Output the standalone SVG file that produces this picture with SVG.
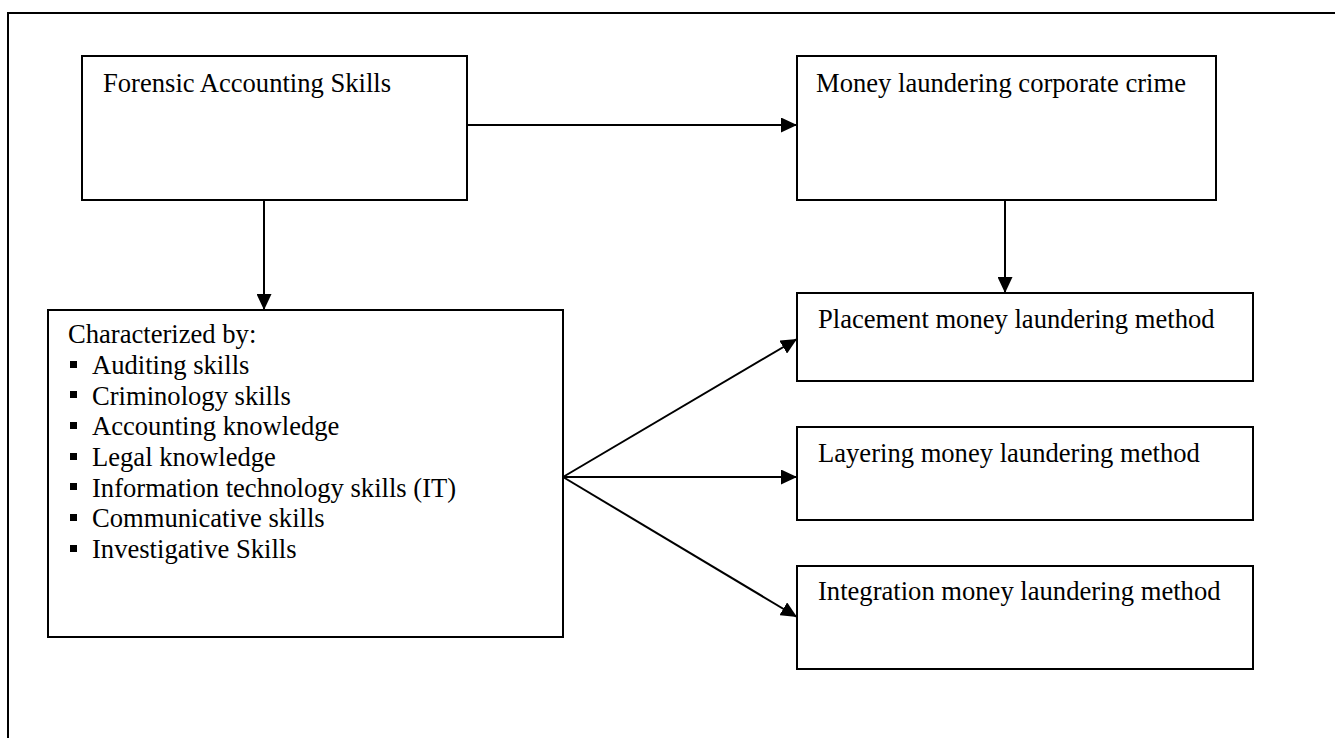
<svg xmlns="http://www.w3.org/2000/svg" xmlns:xlink="http://www.w3.org/1999/xlink" width="1335" height="738" viewBox="0 0 1335 738">
<style>
.box{fill:#fff;stroke:#000;stroke-width:2}
.frame{fill:none;stroke:#000;stroke-width:2}
.t{font-family:"Liberation Serif","Times New Roman",serif;font-size:26.6px;fill:#000}
.c{stroke:#000;stroke-width:2;fill:none}
.b{fill:#000}
</style>
<defs>
<marker id="ah" markerUnits="userSpaceOnUse" markerWidth="16" markerHeight="15" refX="16" refY="7.5" orient="auto">
<path d="M0,0 L16,7.5 L0,15 z" fill="#000"/>
</marker>
<rect id="bul" width="7" height="7" class="b"/>
</defs>
<rect width="1335" height="738" fill="#fff"/>
<path class="frame" d="M8,740 V13 H1337"/>

<g id="connectors">
<line class="c" x1="467" y1="125" x2="797" y2="125" marker-end="url(#ah)"/>
<line class="c" x1="264" y1="200" x2="264" y2="310" marker-end="url(#ah)"/>
<line class="c" x1="1005" y1="200" x2="1005" y2="293" marker-end="url(#ah)"/>
<line class="c" x1="563" y1="477" x2="797" y2="339" marker-end="url(#ah)"/>
<line class="c" x1="563" y1="477" x2="797" y2="477" marker-end="url(#ah)"/>
<line class="c" x1="563" y1="477" x2="797" y2="617" marker-end="url(#ah)"/>
</g>

<g id="forensic">
<rect class="box" x="82" y="56" width="385" height="144"/>
<text class="t" x="103" y="92">Forensic Accounting Skills</text>
</g>

<g id="money">
<rect class="box" x="797" y="56" width="419" height="144"/>
<text class="t" x="816" y="92">Money laundering corporate crime</text>
</g>

<g id="characterized">
<rect class="box" x="48" y="310" width="515" height="327"/>
<text class="t" x="68" y="343">Characterized by:</text>
<use xlink:href="#bul" x="70" y="361"/>
<text class="t" x="92" y="374">Auditing skills</text>
<use xlink:href="#bul" x="70" y="391"/>
<text class="t" x="92" y="404.5">Criminology skills</text>
<use xlink:href="#bul" x="70" y="422"/>
<text class="t" x="92" y="435">Accounting knowledge</text>
<use xlink:href="#bul" x="70" y="453"/>
<text class="t" x="92" y="466">Legal knowledge</text>
<use xlink:href="#bul" x="70" y="483"/>
<text class="t" x="92" y="496.5">Information technology skills (IT)</text>
<use xlink:href="#bul" x="70" y="514"/>
<text class="t" x="92" y="527">Communicative skills</text>
<use xlink:href="#bul" x="70" y="545"/>
<text class="t" x="92" y="558">Investigative Skills</text>
</g>

<g id="placement">
<rect class="box" x="797" y="293" width="456" height="88"/>
<text class="t" x="818" y="328">Placement money laundering method</text>
</g>

<g id="layering">
<rect class="box" x="797" y="427" width="456" height="93"/>
<text class="t" x="818" y="462">Layering money laundering method</text>
</g>

<g id="integration">
<rect class="box" x="797" y="566" width="456" height="103"/>
<text class="t" x="818" y="600">Integration money laundering method</text>
</g>
</svg>
